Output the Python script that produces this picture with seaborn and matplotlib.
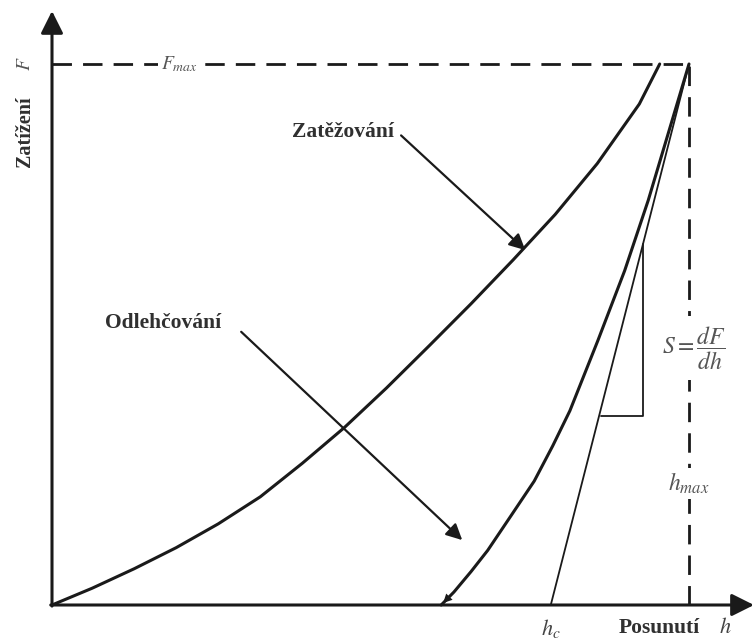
"""
plot.py
-------
Schematic nanoindentation load/unload curve (Zatížení F vs. Posunutí h).
Coordinates are normalised: h_max = 1, F_max = 1.
"""

import matplotlib
matplotlib.use("Agg")
import matplotlib.pyplot as plt
import seaborn as sns
import pandas as pd

sns.set_theme(style="white")
plt.rcParams["font.family"] = ["Liberation Serif", "DejaVu Serif"]
plt.rcParams["mathtext.fontset"] = "stix"

# --- data (normalised to h_max and F_max) ---
load_h = [0.0, 0.063, 0.129, 0.195, 0.261, 0.327, 0.393, 0.459, 0.525,
          0.592, 0.658, 0.724, 0.790, 0.856, 0.922, 0.954]
load_F = [0.0, 0.031, 0.067, 0.106, 0.150, 0.200, 0.262, 0.328, 0.401,
          0.479, 0.557, 0.638, 0.722, 0.816, 0.926, 1.0]

unload_h = [1.0, 0.969, 0.936, 0.899, 0.857, 0.813, 0.786, 0.757, 0.720,
            0.684, 0.658, 0.631, 0.611]
unload_F = [1.0, 0.878, 0.748, 0.618, 0.489, 0.359, 0.294, 0.229, 0.164,
            0.101, 0.062, 0.024, 0.0]

h_max = 1.0
F_max = 1.0
h_c = 0.783             # tangent intercept with the h axis
tri_h = [0.862, 0.928]  # slope triangle: left / right edge
tri_F = [0.349, 0.668]  # slope triangle: bottom / top edge

INK = "#1a1a1a"
TXT = "#303030"

fig = plt.figure(figsize=(7.55, 6.4), dpi=100)
ax = fig.add_axes([0, 0, 1, 1])
ax.set_xlim(-52 / 637, 703 / 637)
ax.set_ylim(-35 / 541, 605 / 541)
ax.axis("off")

# loading / unloading curves
sns.lineplot(data=pd.DataFrame({"h": load_h, "F": load_F}), x="h", y="F",
             sort=False, color=INK, lw=2.2, ax=ax)
sns.lineplot(data=pd.DataFrame({"h": unload_h, "F": unload_F}), x="h", y="F",
             sort=False, color=INK, lw=2.2, ax=ax)
# small head at the end of the unloading curve
ax.annotate("", xy=(unload_h[-1], unload_F[-1]), xytext=(unload_h[-2], unload_F[-2]),
            arrowprops=dict(arrowstyle="-|>", color=INK, lw=0, mutation_scale=16))

# tangent (contact stiffness) and slope triangle
ax.plot([h_c, h_max], [0, F_max], color=INK, lw=1.3)
ax.plot([tri_h[0], tri_h[1], tri_h[1]], [tri_F[0], tri_F[0], tri_F[1]], color=INK, lw=1.3)

# F_max and h_max reference lines
ax.plot([0, h_max], [F_max, F_max], color=INK, lw=2, ls=(0, (7, 4)))
ax.plot([h_max, h_max], [0, F_max], color=INK, lw=2, ls=(0, (7, 4)))

# axes with arrow heads
arrow_kw = dict(arrowstyle="-|>", color=INK, lw=2.2, mutation_scale=34, shrinkA=0, shrinkB=0)
ax.annotate("", xy=(0, 1.098), xytext=(0, -0.002), arrowprops=arrow_kw)
ax.annotate("", xy=(1.102, 0), xytext=(-0.002, 0), arrowprops=arrow_kw)

# pointer arrows with labels
ptr_kw = dict(arrowstyle="-|>", color=INK, lw=1.6, mutation_scale=24, shrinkA=0, shrinkB=0)
ax.annotate("", xy=(0.743, 0.656), xytext=(0.548, 0.868), arrowprops=ptr_kw)
ax.annotate("", xy=(0.644, 0.120), xytext=(0.297, 0.505), arrowprops=ptr_kw)
ax.text(0.537, 0.874, "Zatěžování", ha="right", va="center", fontsize=15.5,
        weight="bold", color=TXT)
ax.text(0.083, 0.521, "Odlehčování", ha="left", va="center", fontsize=15.5,
        weight="bold", color=TXT)

white = dict(facecolor="white", edgecolor="none", pad=2)
ax.text(0.2, F_max, "$F_{max}$", ha="center", va="center", fontsize=14, color="#555", bbox=white)
ax.text(h_max + 0.008, 0.475, r"$S=\dfrac{dF}{dh}$", ha="center", va="center",
        fontsize=17, color="#555", bbox=dict(facecolor="white", edgecolor="none", pad=6))
ax.text(h_max, 0.225, "$h_{max}$", ha="center", va="center", fontsize=17, color="#555",
        bbox=dict(facecolor="white", edgecolor="none", pad=2))
ax.text(h_c, -0.043, "$h_c$", ha="center", va="center", fontsize=16, color="#444")
ax.text(0.954, -0.043, "Posunutí", ha="center", va="center", fontsize=15.5,
        weight="bold", color=TXT)
ax.text(1.057, -0.043, "$h$", ha="center", va="center", fontsize=16, color="#444")
ax.text(-0.042, 0.874, "Zatížení", ha="center", va="center", rotation=90,
        fontsize=14.5, weight="bold", color=TXT)
ax.text(-0.042, 1.0, "$F$", ha="center", va="center", rotation=90, fontsize=14, color="#555")

fig.savefig("out.png", dpi=100, facecolor="white")
plt.close(fig)
